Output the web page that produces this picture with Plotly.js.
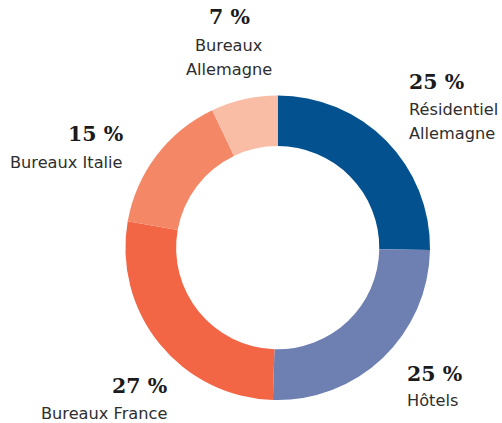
<!DOCTYPE html>
<html>
<head>
<meta charset="utf-8">
<script src="https://cdn.plot.ly/plotly-3.0.1.min.js"></script>
<style>html,body{margin:0;padding:0;background:#fff;}#chart{width:502px;height:423px;}</style>
</head>
<body>
<div id="chart"></div>
<script>
// Data
const categories = ["Résidentiel Allemagne", "Hôtels", "Bureaux France", "Bureaux Italie", "Bureaux Allemagne"];
const labelLines = [["Résidentiel", "Allemagne"], ["Hôtels"], ["Bureaux France"], ["Bureaux Italie"], ["Bureaux", "Allemagne"]];
const shares = [25, 25, 27, 15, 7];
const colors = ["#03518F", "#6E80B2", "#F26646", "#F48766", "#F9BDA6"];

// Label placement (pixels in the 502x423 frame): anchor x, cap-centre y of the % line, then each label line
const W = 502, H = 423;
const labelPos = [
  {x: 408, anchor: "left",   pctY: 81.5,  lineY: [110, 133.5]},
  {x: 406, anchor: "left",   pctY: 373.5, lineY: [400]},
  {x: 168, anchor: "right",  pctY: 385.5, lineY: [413.5]},
  {x: 124, anchor: "right",  pctY: 134,   lineY: [162]},
  {x: 229, anchor: "center", pctY: 16.5,  lineY: [45.5, 69]}
];

const pctFont = {family: "DejaVu Serif", size: 20.5, color: "#1b1b1b", weight: 700};
const lblFont = {family: "DejaVu Sans", size: 16.2, color: "#2e2e2e"};

const annotations = [];
categories.forEach((c, i) => {
  const p = labelPos[i];
  annotations.push({
    text: "<b>" + shares[i] + " %</b>", xref: "paper", yref: "paper",
    x: p.x / W, y: 1 - p.pctY / H, xanchor: p.anchor, yanchor: "middle",
    showarrow: false, font: pctFont, borderpad: 0
  });
  labelLines[i].forEach((ln, j) => {
    annotations.push({
      text: ln, xref: "paper", yref: "paper",
      x: p.x / W, y: 1 - p.lineY[j] / H, xanchor: p.anchor, yanchor: "middle",
      showarrow: false, font: lblFont, borderpad: 0
    });
  });
});

const cx = 277.7, cy = 247.7, r = 152.3;
const trace = {
  type: "pie",
  labels: categories,
  values: shares,
  marker: {colors: colors, line: {width: 0}},
  hole: 0.667,
  sort: false,
  direction: "clockwise",
  rotation: 0,
  textinfo: "none",
  hoverinfo: "label+percent",
  domain: {x: [(cx - r) / W, (cx + r) / W], y: [(H - cy - r) / H, (H - cy + r) / H]}
};

const layout = {
  width: W, height: H,
  margin: {l: 0, r: 0, t: 0, b: 0},
  paper_bgcolor: "#ffffff",
  showlegend: false,
  annotations: annotations
};

Plotly.newPlot("chart", [trace], layout, {staticPlot: true, displayModeBar: false});
</script>
</body>
</html>
